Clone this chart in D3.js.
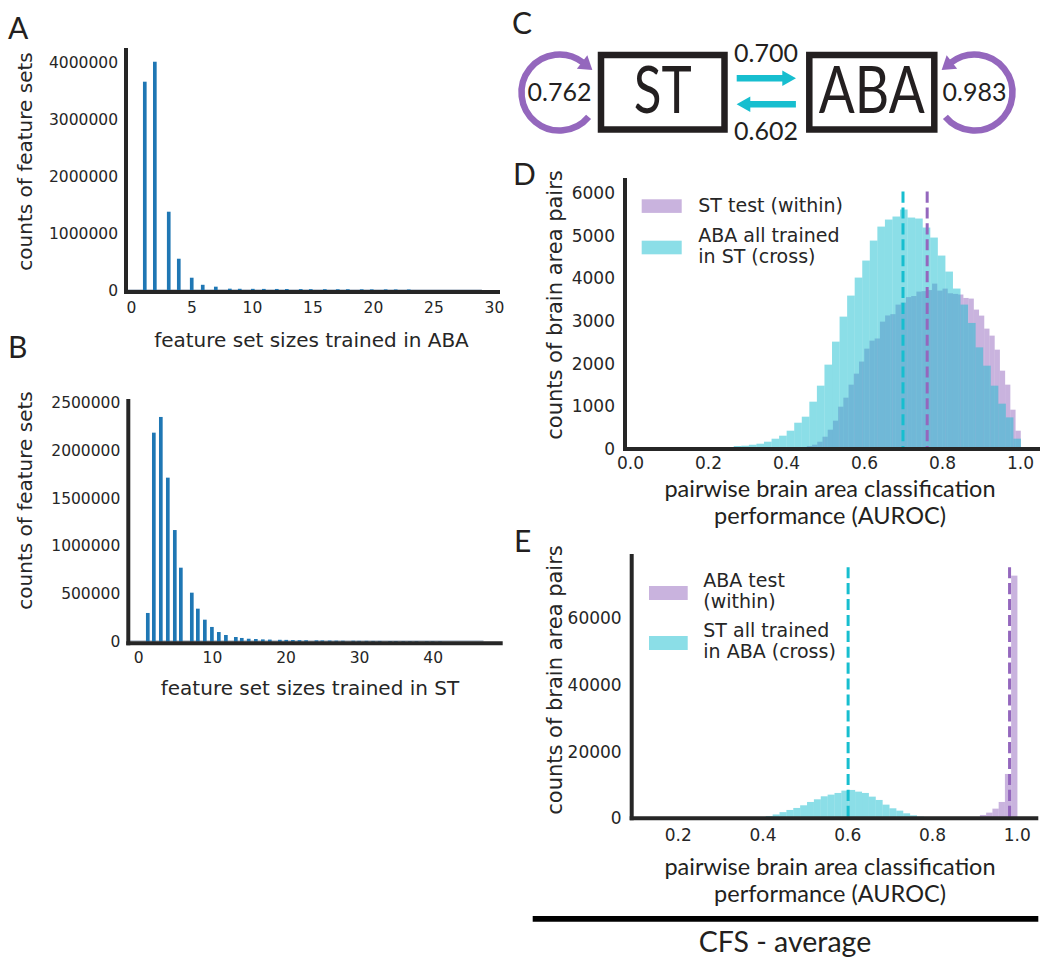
<!DOCTYPE html>
<html>
<meta charset="utf-8">
<head>
<style>
body { margin: 0; background: #fff; }
.sans { font-family: "DejaVu Sans", sans-serif; fill: #262626; }
.myr { font-family: Lato, sans-serif; fill: #231f20; }
</style>
</head>
<body>
<svg width="1043" height="959"></svg>
<script src="https://cdn.jsdelivr.net/npm/d3@7"></script>
<script>

// A: feature set sizes trained in ABA (bar centres)
var sizesA = [1.14, 1.97, 3.12, 3.95, 5.02, 5.93, 7.01, 8.17, 8.99, 10.07, 10.98, 12.05,
              12.88, 14.03, 14.86, 16.02, 17.09, 17.92, 19.07, 19.9, 21.05, 21.88, 22.96];
var countsA = [3660000, 4010000, 1381000, 557000, 224000, 100000, 67000, 32000, 30000, 29000,
               28000, 27000, 26000, 25000, 24000, 23000, 22000, 22000, 21000, 20000, 20000, 19000, 18000];
var maxSizeA = 29;

// B: feature set sizes trained in ST
var sizesB = [1.29, 2.11, 3.06, 4.01, 4.96, 5.78, 7.27, 8.09, 9.04, 10.0, 10.94, 11.9, 13.25,
              14.06, 15.0, 15.97, 16.92, 17.87, 19.23, 20.1, 21.0, 21.9, 22.8, 24.2, 25.0, 26.0,
              26.9, 27.8, 29.2, 30.0, 31.0, 31.9, 32.8, 34.2, 35.0, 36.0, 36.9, 37.8, 39.2, 40.0, 41.0];
var countsB = [300000, 2183000, 2347000, 1713000, 1166000, 773000, 512000, 345000, 230000, 154000,
               101000, 70000, 49000, 39000, 31000, 28000, 24000, 22000, 20000, 19000, 17000, 16000,
               15000, 14000, 13000, 12000, 11000, 10000, 10000, 9000, 9000, 8000, 8000, 7000, 7000,
               6000, 6000, 6000, 5000, 5000, 5000];
var maxSizeB = 46.9;

// C: summary AUROC
var nodeNames = ["ST", "ABA"];
var withinAuroc = [0.762, 0.983];
var crossAuroc = [0.700, 0.602];   // ST -> ABA, ABA -> ST

// D: trained in ST
var dWithinRange = [0.333, 1.002];
var dWithinCounts = [2, 3, 5, 7, 10, 15, 20, 30, 45, 70, 101, 171, 288, 453, 664, 992, 1203, 1508,
  1766, 2049, 2352, 2540, 2590, 2985, 3130, 3160, 3384, 3430, 3560, 3585, 3689, 3700, 3725, 3876,
  3712, 3759, 3650, 3635, 3620, 3540, 3525, 3267, 3126, 2821, 2657, 2328, 1836, 1508, 921, 429];
var dCrossRange = [0.0335, 1.0025];
var dCrossCounts = [0, 0, 0, 1, 2, 3, 5, 8, 12, 20, 30, 45, 70, 77, 100, 124, 171, 241, 312, 429,
  616, 757, 1109, 1484, 1977, 2516, 3102, 3595, 4017, 4416, 4884, 5212, 5377, 5448, 5612, 5424,
  5401, 5190, 4955, 4533, 4158, 3760, 3384, 2954, 2382, 1953, 1484, 1062, 741, 242];
var dMeans = [0.762, 0.700];
var dLegend = [["ST test (within)"], ["ABA all trained", "in ST (cross)"]];

// E: trained in ABA
var eWithinRange = [0.913, 1.0015];
var eWithinCounts = [1000, 1700, 2900, 4900, 13300, 72800];
var eCrossRange = [0.4077, 0.7808];
var eCrossCounts = [690, 1150, 1850, 2500, 3100, 3900, 4900, 5700, 6600, 7100, 7600, 8300, 8500,
  8000, 7600, 6500, 5500, 4100, 3000, 2300, 1500, 900, 500];
var eMeans = [0.983, 0.602];
var eLegend = [["ABA test", "(within)"], ["ST all trained", "in ABA (cross)"]];

var blue = "#1f77b4", purple = "#9467bd", cyan = "#17becf", ink = "#262626";

var svg = d3.select("svg");

function axes(c) {
  var x = d3.scaleLinear().domain(c.xd).range(c.xr);
  var y = d3.scaleLinear().domain(c.yd).range(c.yr);
  var g = svg.append("g");
  var marks = g.append("g");
  var top = g.append("g");
  top.append("line").attr("x1", c.xr[0]).attr("x2", c.xr[0])
     .attr("y1", c.yr[1]).attr("y2", c.yr[0] + 2)
     .attr("stroke", ink).attr("stroke-width", 4);
  top.append("line").attr("x1", c.xr[0] - 2).attr("x2", c.xr[1])
     .attr("y1", c.yr[0]).attr("y2", c.yr[0])
     .attr("stroke", ink).attr("stroke-width", 4);
  var ax = top.append("g").attr("transform", "translate(0," + c.yr[0] + ")")
     .call(d3.axisBottom(x).tickValues(c.xt).tickFormat(c.xf).tickSize(0).tickPadding(c.px));
  var ay = top.append("g").attr("transform", "translate(" + c.xr[0] + ",0)")
     .call(d3.axisLeft(y).tickValues(c.yt).tickFormat(d3.format("d")).tickSize(0).tickPadding(c.py));
  [ax, ay].forEach(function(a) {
    a.select(".domain").remove();
    a.attr("font-family", null).attr("font-size", null);
    a.selectAll("text").attr("class", "sans").style("font-size", c.fs + "px").attr("fill", ink);
  });
  return {x: x, y: y, marks: marks, top: top, c: c};
}

function ylabel(txt, bx, cy, fs) {
  svg.append("text").attr("class", "sans").attr("text-anchor", "middle")
     .attr("transform", "translate(" + bx + "," + cy + ") rotate(-90)")
     .style("font-size", fs + "px").text(txt);
}
function textAt(txt, cls, x, y, fs, anchor) {
  return svg.append("text").attr("class", cls).attr("x", x).attr("y", y)
     .attr("text-anchor", anchor || "middle").style("font-size", fs + "px").text(txt);
}

function bars(p, sizes, counts, w) {
  p.marks.append("line").attr("x1", p.c.xr[0]).attr("x2", p.x(p.c.last))
     .attr("y1", p.y(0) - 0.8).attr("y2", p.y(0) - 0.8)
     .attr("stroke", "#c4ccd6").attr("stroke-width", 1.6);
  p.marks.selectAll(null).data(sizes).enter().append("rect")
     .attr("x", function(d) { return p.x(d - w / 2); })
     .attr("width", p.x(w) - p.x(0))
     .attr("y", function(d, i) { return p.y(counts[i]); })
     .attr("height", function(d, i) { return p.y(0) - p.y(counts[i]); })
     .attr("fill", blue);
}

function hist(p, range, counts, color) {
  var w = (range[1] - range[0]) / counts.length;
  p.marks.append("g").selectAll("rect").data(counts).enter().append("rect")
     .attr("x", function(d, i) { return p.x(range[0] + i * w); })
     .attr("width", function(d, i) { return p.x(range[0] + (i + 1) * w) - p.x(range[0] + i * w); })
     .attr("y", function(d) { return p.y(d); })
     .attr("height", function(d) { return p.y(0) - p.y(d); })
     .attr("fill", color).attr("fill-opacity", 0.5);
}

function meanLines(p, means, colors) {
  var y0 = p.c.yr[0], y1 = p.c.yr[0] + 0.95 * (p.c.yr[1] - p.c.yr[0]);
  means.forEach(function(m, i) {
    p.marks.append("line").attr("x1", p.x(m)).attr("x2", p.x(m))
      .attr("y1", y1).attr("y2", y0)
      .attr("stroke", colors[i]).attr("stroke-width", 3)
      .attr("stroke-dasharray", "11.1,4.8");
  });
}

function legend(entries, colors, px, py, pw, ph, tx, baselines, fs) {
  entries.forEach(function(lines, i) {
    svg.append("rect").attr("x", px).attr("y", py[i]).attr("width", pw).attr("height", ph)
       .attr("fill", colors[i]).attr("fill-opacity", 0.5);
    lines.forEach(function(t, j) {
      textAt(t, "sans", tx, baselines[i][j], fs, "start");
    });
  });
}

// ---------- A ----------
var pA = axes({xd: [-0.413, 30.5], xr: [126, 500], yd: [-26300, 4250700], yr: [292, 48],
  xt: [0, 5, 10, 15, 20, 25, 30], xf: d3.format("d"), yt: [0, 1000000, 2000000, 3000000, 4000000],
  fs: 15.5, px: 9.5, py: 8, last: maxSizeA});
bars(pA, sizesA, countsA, 0.303);
ylabel("counts of feature sets", 31.5, 161.5, 20);
textAt("feature set sizes trained in ABA", "sans", 311.5, 347, 20);

// ---------- B ----------
var pB = axes({xd: [-1.359, 49.51], xr: [128.3, 502.7], yd: [-16700, 2534500], yr: [643.3, 399],
  xt: [0, 10, 20, 30, 40], xf: d3.format("d"),
  yt: [0, 500000, 1000000, 1500000, 2000000, 2500000], fs: 15.5, px: 9, py: 8, last: maxSizeB});
bars(pB, sizesB, countsB, 0.5);
ylabel("counts of feature sets", 31.5, 500.5, 20);
textAt("feature set sizes trained in ST", "sans", 310, 695, 20);

// ---------- C ----------
var dark = "#231f20";
var boxX = [601, 809.3], boxW = [123.5, 125], boxInk = [58, 106];
nodeNames.forEach(function(n, i) {
  svg.append("rect").attr("x", boxX[i]).attr("y", 55).attr("width", boxW[i]).attr("height", 74.5)
     .attr("fill", "none").attr("stroke", dark).attr("stroke-width", 6.5);
  textAt(n, "myr", boxX[i] + boxW[i] / 2, 112.5, 65)
     .attr("textLength", boxInk[i]).attr("lengthAdjust", "spacingAndGlyphs");
});
// self loops
var loopC = [559.5, 974.5];
withinAuroc.forEach(function(v, i) {
  var s = i === 0 ? 1 : -1;
  var g = svg.append("g").attr("transform", "translate(" + loopC[i] + ",92.5) scale(" + s + ",1)");
  var r = 38, a0 = -52 * Math.PI / 180, a1 = 40 * Math.PI / 180;
  var p0 = [r * Math.cos(a0), r * Math.sin(a0)], p1 = [r * Math.cos(a1), r * Math.sin(a1)];
  g.append("path").attr("d", "M" + p0 + "A" + r + "," + r + " 0 1 0 " + p1)
    .attr("fill", "none").attr("stroke", purple).attr("stroke-width", 6.5);
  var t = [-Math.sin(a0), Math.cos(a0)], nrm = [Math.cos(a0), Math.sin(a0)];
  var L = 12, W = 8.5;
  g.append("path").attr("d", "M" + [p0[0] + L * t[0], p0[1] + L * t[1]] +
      "L" + [p0[0] + W * nrm[0] - 1 * t[0], p0[1] + W * nrm[1] - 1 * t[1]] +
      "L" + [p0[0] - W * nrm[0] - 1 * t[0], p0[1] - W * nrm[1] - 1 * t[1]] + "Z")
    .attr("fill", purple);
  textAt(d3.format(".3f")(v), "myr", loopC[i], 101, 25);
});
// cross arrows
[[78.3, 1], [104.3, -1]].forEach(function(a, i) {
  var g = svg.append("g").attr("transform", "translate(766.3," + a[0] + ") scale(" + a[1] + ",1)");
  g.append("path").attr("d", "M-29.6,-3.3H16V-7.8L29.7,0L16,7.8V3.3H-29.6Z").attr("fill", cyan);
});
textAt(d3.format(".3f")(crossAuroc[0]), "myr", 766, 62, 25);
textAt(d3.format(".3f")(crossAuroc[1]), "myr", 766, 139.5, 25);

// ---------- D ----------
var pD = axes({xd: [-0.01282, 1.05128], xr: [625, 1040], yd: [0, 6351], yr: [449, 178],
  xt: [0, 0.2, 0.4, 0.6, 0.8, 1.0], xf: d3.format(".1f"),
  yt: [0, 1000, 2000, 3000, 4000, 5000, 6000], fs: 17, px: 8.3, py: 10});
hist(pD, dWithinRange, dWithinCounts, purple);
hist(pD, dCrossRange, dCrossCounts, cyan);
meanLines(pD, dMeans, [purple, cyan]);
legend(dLegend, [purple, cyan], 641.7, [199.3, 240.7], 40, 13.6, 698.3,
  [[212.3], [241.7, 263.3]], 19);
ylabel("counts of brain area pairs", 562, 305, 21);
textAt("pairwise brain area classification", "myr", 830, 496.5, 23.5);
textAt("performance (AUROC)", "myr", 830, 523.5, 23.5);

// ---------- E ----------
var pE = axes({xd: [0.0913, 1.0508], xr: [631.7, 1038.3], yd: [0, 79290], yr: [818.3, 554],
  xt: [0.2, 0.4, 0.6, 0.8, 1.0], xf: d3.format(".1f"),
  yt: [0, 20000, 40000, 60000], fs: 17, px: 10.7, py: 10});
hist(pE, eWithinRange, eWithinCounts, purple);
hist(pE, eCrossRange, eCrossCounts, cyan);
meanLines(pE, [eMeans[1], eMeans[0]], [cyan, purple]);
legend(eLegend, [purple, cyan], 649, [586, 636], 38.7, 14, 703.3,
  [[587.3, 607.5], [637.3, 658.3]], 19);
ylabel("counts of brain area pairs", 562, 680, 21);
textAt("pairwise brain area classification", "myr", 830, 874.5, 23.5);
textAt("performance (AUROC)", "myr", 830, 902, 23.5);

// bottom caption
svg.append("line").attr("x1", 532.7).attr("x2", 1038.3).attr("y1", 918.8).attr("y2", 918.8)
   .attr("stroke", "#000").attr("stroke-width", 5.7);
textAt("CFS - average", "myr", 785, 952, 28.5);

// panel letters
[["A", 8, 39], ["B", 8, 358], ["C", 512, 33.5], ["D", 513, 185], ["E", 514, 552]].forEach(function(l) {
  textAt(l[0], "myr", l[1], l[2], 30, "start");
});

</script>
</body>
</html>
